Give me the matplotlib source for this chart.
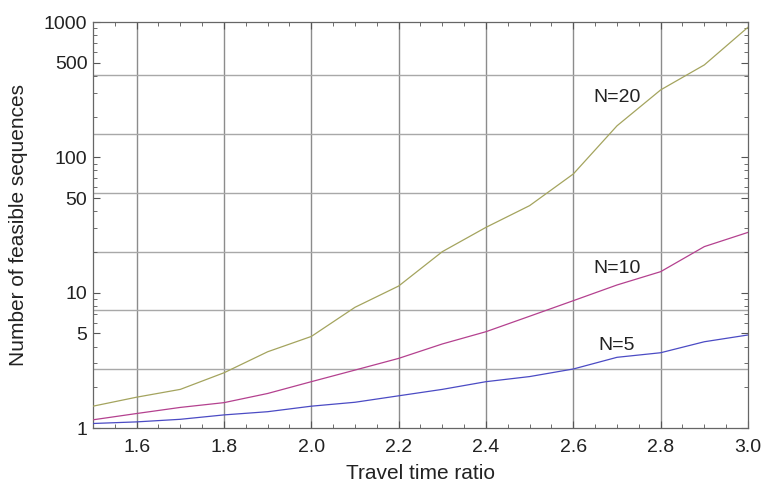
import matplotlib
matplotlib.use("Agg")
import matplotlib.pyplot as plt
import numpy as np
from matplotlib.ticker import FixedLocator, NullFormatter, FixedFormatter

plt.rcParams['font.family'] = ['Liberation Sans', 'DejaVu Sans']

# data
ratio = [1.5, 1.6, 1.7, 1.8, 1.9, 2.0, 2.1, 2.2, 2.3, 2.4, 2.5, 2.6, 2.7, 2.8, 2.9, 3.0]
n5 = [1.08, 1.11, 1.16, 1.25, 1.32, 1.45, 1.55, 1.73, 1.93, 2.20, 2.40, 2.73, 3.33, 3.60, 4.34, 4.87]
n10 = [1.15, 1.28, 1.42, 1.54, 1.80, 2.20, 2.68, 3.27, 4.18, 5.15, 6.70, 8.73, 11.4, 14.3, 21.9, 27.9]
n20 = [1.45, 1.69, 1.93, 2.56, 3.66, 4.75, 7.8, 11.2, 20.1, 30.4, 44.0, 75.4, 171, 315, 482, 915]

series = [("N=5", n5, "#4b4bc4"), ("N=10", n10, "#b4418f"), ("N=20", n20, "#a4a45e")]
label_pos = {"N=5": (2.70, 4.1), "N=10": (2.70, 15.2), "N=20": (2.70, 275)}

yticks = [1, 5, 10, 50, 100, 500, 1000]
xticks = [1.6, 1.8, 2.0, 2.2, 2.4, 2.6, 2.8, 3.0]

fig = plt.figure(figsize=(7.66, 4.86), dpi=100)
ax = fig.add_axes([0.1214, 0.1193, 0.8551, 0.8354])

# mathematica-style grid: vertical at majors, horizontal at e^k
for x in [1.6, 1.8, 2.0, 2.2, 2.4, 2.6, 2.8]:
    ax.axvline(x, color="#8c8c8c", lw=1.0, zorder=1)
for k in range(1, 7):
    ax.axhline(np.e ** k, color="#a8a8a8", lw=1.0, zorder=1)

for name, vals, col in series:
    ax.plot(ratio, vals, color=col, lw=0.9, zorder=3)
    tx, ty = label_pos[name]
    ax.text(tx, ty, name, fontsize=14, ha="center", va="center", color="#222222", zorder=4)

ax.set_yscale("log")
ax.set_xlim(1.5, 3.0)
ax.set_ylim(1, 1000)

ax.xaxis.set_major_locator(FixedLocator(xticks))
ax.xaxis.set_minor_locator(FixedLocator(np.arange(1.5, 3.001, 0.05)))
ax.xaxis.set_major_formatter(FixedFormatter(["%.1f" % v for v in xticks]))
ax.yaxis.set_major_locator(FixedLocator(yticks))
ax.yaxis.set_major_formatter(FixedFormatter([str(v) for v in yticks]))
minors = [m * 10 ** d for d in range(0, 3) for m in range(2, 10)]
ax.yaxis.set_minor_locator(FixedLocator(minors))
ax.yaxis.set_minor_formatter(NullFormatter())

ax.tick_params(which="both", direction="in", top=True, right=True, colors="#555555",
               labelcolor="#222222", labelsize=14)
ax.tick_params(which="major", length=5, width=0.8)
ax.tick_params(which="minor", length=3, width=0.6)
ax.tick_params(axis="x", which="major", pad=8)
ax.tick_params(axis="y", which="major", pad=4)

for sp in ax.spines.values():
    sp.set_color("#666666")
    sp.set_linewidth(0.9)

ax.set_xlabel("Travel time ratio", fontsize=15, color="#222222")
ax.set_ylabel("Number of feasible sequences", fontsize=15, color="#222222")
ax.xaxis.set_label_coords(0.5, -0.088)
ax.yaxis.set_label_coords(-0.099, 0.5)

fig.savefig("out.png", dpi=100)
